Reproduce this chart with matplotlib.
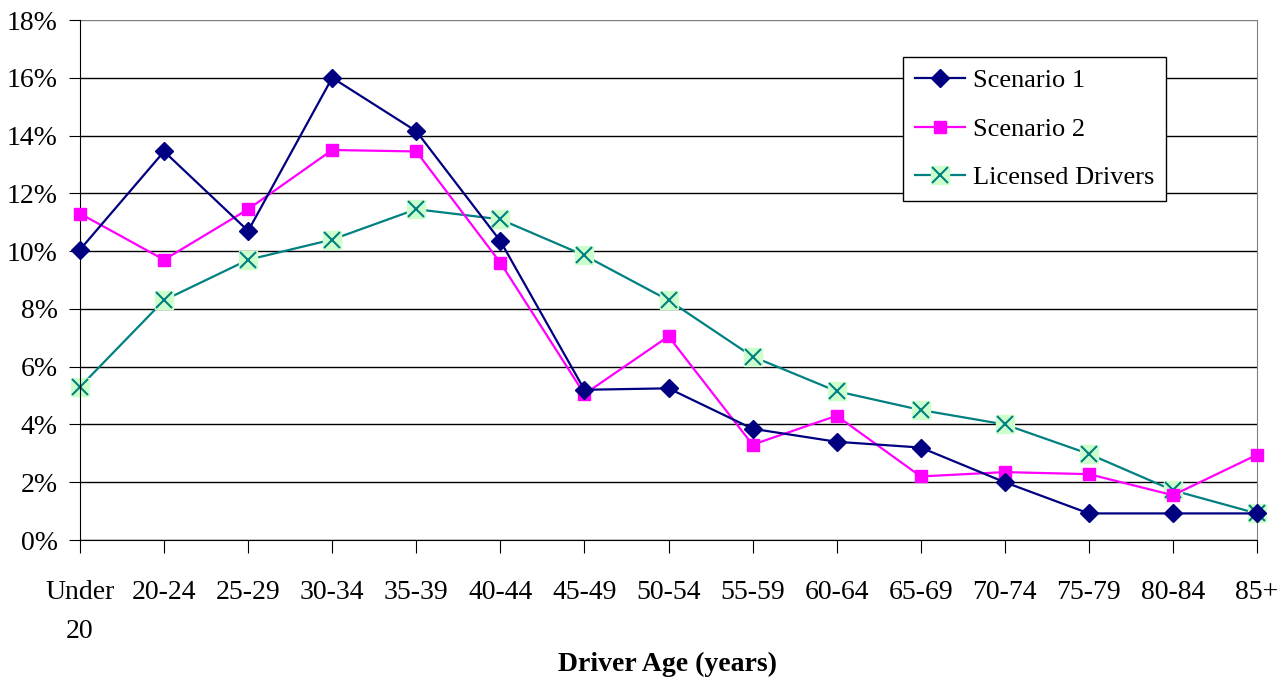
import matplotlib
matplotlib.use("Agg")
import matplotlib.pyplot as plt
from matplotlib.legend_handler import HandlerTuple
from matplotlib.ticker import FuncFormatter

plt.rcParams['font.family'] = ['Liberation Serif', 'DejaVu Serif']

categories = ["Under\n20", "20-24", "25-29", "30-34", "35-39", "40-44", "45-49",
              "50-54", "55-59", "60-64", "65-69", "70-74", "75-79", "80-84", "85+"]
scenario1 = [10.05, 13.45, 10.7, 16.0, 14.15, 10.35, 5.2, 5.25, 3.85, 3.4, 3.2, 2.0, 0.92, 0.92, 0.92]
scenario2 = [11.3, 9.7, 11.45, 13.5, 13.45, 9.6, 5.05, 7.05, 3.3, 4.3, 2.2, 2.35, 2.28, 1.55, 2.95]
licensed = [5.3, 8.3, 9.7, 10.4, 11.45, 11.1, 9.85, 8.3, 6.35, 5.15, 4.5, 4.0, 2.98, 1.72, 0.92]
yticks = [0, 2, 4, 6, 8, 10, 12, 14, 16, 18]

fig = plt.figure(figsize=(12.87, 6.81), dpi=100)
ax = fig.add_axes([80/1287, 141/681, 1177/1287, 520/681])

x = list(range(len(categories)))
l1, = ax.plot(x, scenario1, color='#000080', lw=1.6, marker='D', markersize=9,
              markerfacecolor='#000080', markeredgecolor='#000080', zorder=4,
              clip_on=False, label='Scenario 1')
l2, = ax.plot(x, scenario2, color='#ff00ff', lw=1.6, marker='s', markersize=8,
              markerfacecolor='#ff00ff', markeredgecolor='#ff00ff', zorder=3,
              clip_on=False, label='Scenario 2')
l3a, = ax.plot(x, licensed, color='#008080', lw=1.6, marker='s', markersize=13,
               markerfacecolor='#ccffcc', markeredgecolor='#ccffcc', zorder=2,
               clip_on=False)
l3b, = ax.plot(x, licensed, color='#008080', lw=0, marker='x', markersize=11,
               markeredgewidth=1.5, markeredgecolor='#008080', zorder=2.5,
               clip_on=False)

ax.set_xlim(0, len(categories) - 1)
ax.set_ylim(0, 18)
ax.set_yticks(yticks)
ax.yaxis.set_major_formatter(FuncFormatter(lambda v, p: f"{int(v)}%"))
ax.set_xticks(x)
ax.set_xticklabels(categories, linespacing=1.7)
ax.grid(axis='y', color='black', lw=1)
ax.set_axisbelow(True)
ax.spines['top'].set_visible(False)
ax.spines['right'].set_color('#808080')
ax.spines['left'].set_color('black')
ax.spines['bottom'].set_color('black')
ax.tick_params(axis='x', direction='out', length=9, pad=20, labelsize=20)
ax.tick_params(axis='y', direction='out', length=8, pad=8, labelsize=20)
ax.get_ygridlines()[-1].set_color('#808080')

fig.text(668/1287, 1 - 664/681, "Driver Age (years)", fontsize=20, fontweight='bold',
         ha='center', va='center')

leg = ax.legend([l1, l2, (l3a, l3b)], ['Scenario 1', 'Scenario 2', 'Licensed Drivers'],
                handler_map={tuple: HandlerTuple(ndivide=1)},
                loc='upper left', bbox_to_anchor=(823/1177, (540-57)/520),
                fontsize=19, frameon=True, fancybox=False, edgecolor='black',
                framealpha=1, borderpad=0.45, labelspacing=0.95, handlelength=1.9,
                handletextpad=0.3, borderaxespad=0)
leg.get_frame().set_linewidth(1.0)

fig.savefig("out.png", dpi=100)
